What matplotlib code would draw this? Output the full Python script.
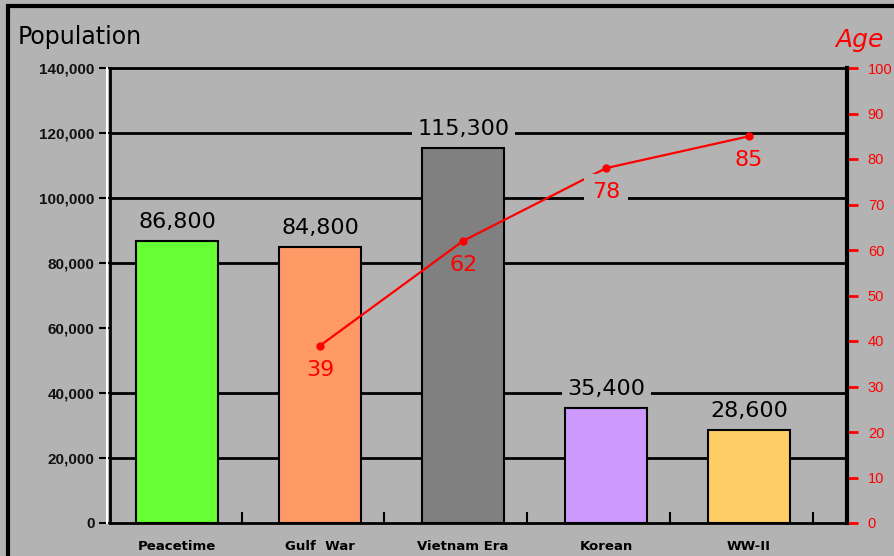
import matplotlib
matplotlib.use("Agg")
import matplotlib.pyplot as plt
from matplotlib.patches import Rectangle

# data
categories = ["Peacetime", "Gulf  War", "Vietnam Era", "Korean", "WW-II"]
population = [86800, 84800, 115300, 35400, 28600]
pop_labels = ["86,800", "84,800", "115,300", "35,400", "28,600"]
bar_colors = ["#66ff33", "#ff9966", "#808080", "#cc99ff", "#ffcc66"]
age_cats = [1, 2, 3, 4]
ages = [39, 62, 78, 85]
pop_ticks = [0, 20000, 40000, 60000, 80000, 100000, 120000, 140000]
grid_vals = [20000, 40000, 80000, 100000, 120000]
age_ticks = [0, 10, 20, 30, 40, 50, 60, 70, 80, 90, 100]

bg = "#b3b3b3"
W, H = 894, 556
fig = plt.figure(figsize=(W / 100, H / 100), dpi=100, facecolor=bg)
ax = fig.add_axes([110 / W, 1 - 523 / H, (847 - 110) / W, (523 - 68) / H])
ax.set_facecolor(bg)

x = list(range(len(categories)))
ax.set_xlim(-0.47, 4.685)
ax.set_ylim(0, 140000)

# gridlines (drawn under the bars)
for g in grid_vals:
    ax.axhline(g, color="black", lw=2, zorder=1)

ax.bar(x, population, width=0.57, color=bar_colors, edgecolor="black",
       linewidth=1.5, zorder=2)

for xi, v, lab in zip(x, population, pop_labels):
    ax.annotate(lab, (xi, v), xytext=(0, 9), textcoords="offset pixels",
                ha="center", va="bottom", fontsize=16, color="black",
                bbox=dict(boxstyle="square,pad=0.25", fc=bg, ec="none"),
                zorder=3)

# left axis
ax.set_yticks(pop_ticks)
ax.set_yticklabels([f"{t:,}" for t in pop_ticks], family="Liberation Sans",
                   fontweight="bold", fontsize=11, color="#111111")
ax.tick_params(axis="y", direction="out", length=8, width=1.5, pad=3)
ax.set_xticks(x)
ax.set_xticklabels(categories, fontsize=9.5, fontweight="bold")
ax.tick_params(axis="x", which="major", length=0, pad=12)
ax.set_xticks([i + 0.45 for i in x], minor=True)
ax.tick_params(axis="x", which="minor", direction="in", length=8, width=1.5)

for s in ["left", "bottom", "top"]:
    ax.spines[s].set_linewidth(2)
ax.spines["right"].set_visible(False)
ax.plot([-0.004, -0.004], [0, 1], transform=ax.transAxes, color="white",
        lw=1.5, clip_on=False)

# right axis (age)
ax2 = ax.twinx()
ax2.set_ylim(0, 100)
ax2.set_yticks(age_ticks)
ax2.set_yticklabels([str(t) for t in age_ticks], family="Liberation Sans",
                    fontsize=10.5, color="red")
ax2.tick_params(axis="y", direction="out", length=8, width=2, colors="red",
                pad=7)
ax2.spines["right"].set_linewidth(3)
ax2.spines["right"].set_color("black")
for s in ["left", "bottom", "top"]:
    ax2.spines[s].set_visible(False)

ax2.plot(age_cats, ages, color="red", lw=1.6, marker="o", markersize=5,
         zorder=4)
scale = 140000 / 100
for xi, a in zip(age_cats, ages):
    # labels sitting over a bar get no background box
    over_bar = a * scale < population[xi]
    box = None if over_bar else dict(boxstyle="square,pad=0.35", fc=bg,
                                     ec="none")
    ax2.annotate(str(a), (xi, a), xytext=(0, -14), textcoords="offset pixels",
                 ha="center", va="top", fontsize=16, color="red",
                 bbox=box, zorder=5)

fig.text(18 / W, 1 - 37 / H, "Population", fontsize=17, va="center",
         ha="left", color="black")
fig.text(884 / W, 1 - 40 / H, "Age", fontsize=18, style="italic",
         va="center", ha="right", color="red")

# outer frame (left and top edges visible)
fig.add_artist(Rectangle((8 / W, -0.05), 1.1, (1 - 6 / H) + 0.05,
                         transform=fig.transFigure, fill=False,
                         edgecolor="black", lw=3))

fig.savefig("out.png", dpi=100, facecolor=bg)
